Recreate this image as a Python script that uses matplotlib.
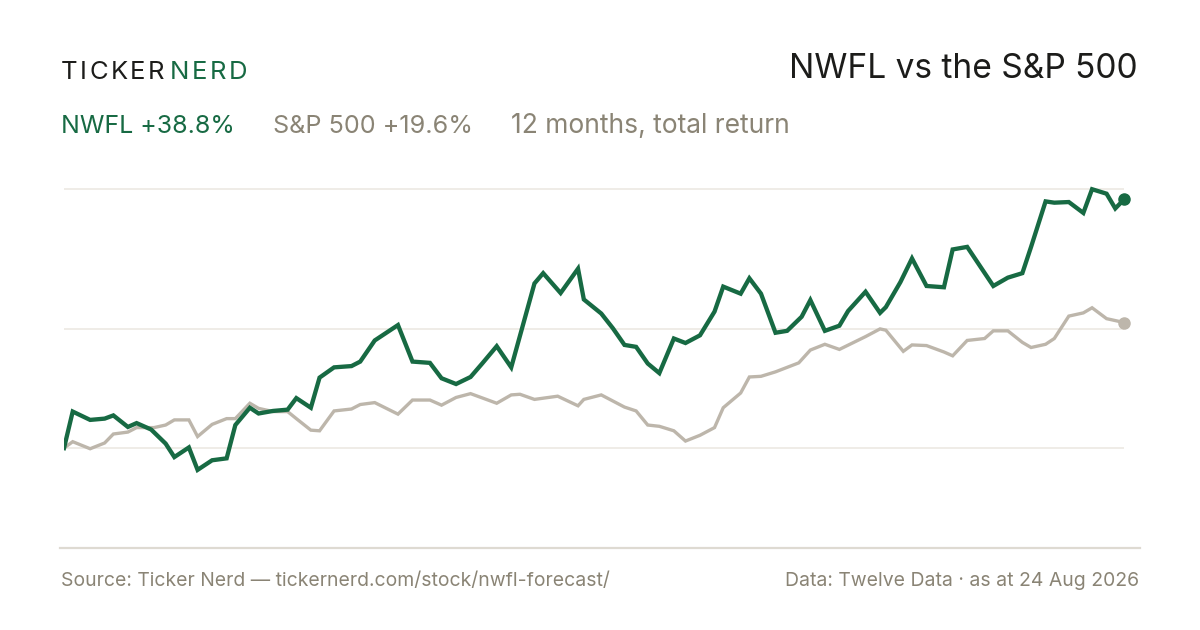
import matplotlib
matplotlib.use("Agg")
import matplotlib.pyplot as plt

# days since start, cumulative total return in %
nwfl_day = [0, 3, 9, 14, 17, 22, 25, 30, 35, 38, 43, 46, 51, 56, 59, 64, 67, 72, 77, 80,
            85, 88, 93, 99, 102, 107, 115, 120, 126, 130, 135, 140, 144, 149, 154, 162, 165,
            171, 177, 179, 185, 189, 193, 197, 201, 205, 210, 214, 219, 224, 227, 233, 236,
            240, 245, 249, 254, 257, 262, 267, 270, 276, 281, 283, 288, 292, 297, 303, 306,
            311, 320, 325, 330, 333, 338, 341, 346, 351, 354, 359, 362, 365]
nwfl_ret = [0.0, 5.7, 4.4, 4.6, 5.1, 3.3, 3.9, 2.9, 0.7, -1.4, 0.1, -3.4, -1.9, -1.6, 3.6,
            6.3, 5.4, 5.8, 6.0, 7.8, 6.3, 11.0, 12.6, 12.8, 13.5, 16.8, 19.2, 13.5, 13.3,
            10.9, 10.0, 11.1, 13.2, 15.9, 12.6, 25.7, 27.3, 24.2, 28.0, 23.2, 21.0, 18.7,
            16.1, 15.8, 13.2, 11.7, 17.1, 16.4, 17.6, 21.3, 25.2, 24.1, 26.5, 24.1, 18.0,
            18.3, 20.5, 23.1, 18.3, 19.1, 21.4, 24.4, 21.1, 22.0, 25.9, 29.6, 25.3, 25.1,
            31.0, 31.4, 25.3, 26.6, 27.3, 31.4, 38.5, 38.3, 38.4, 36.7, 40.4, 39.7, 37.4, 38.8]

spx_day = [0, 3, 9, 14, 17, 22, 25, 31, 35, 38, 43, 46, 51, 56, 59, 64, 67, 72, 77, 80, 85,
           88, 93, 99, 102, 107, 115, 120, 126, 130, 135, 140, 149, 154, 157, 162, 170, 177,
           179, 185, 193, 197, 201, 205, 210, 214, 219, 224, 227, 233, 236, 240, 245, 253,
           257, 262, 267, 276, 281, 283, 289, 292, 297, 303, 306, 311, 317, 320, 325, 330,
           333, 338, 341, 346, 351, 354, 359, 365]
spx_ret = [0.0, 1.0, -0.1, 0.8, 2.2, 2.5, 3.2, 3.2, 3.6, 4.4, 4.4, 1.8, 3.7, 4.6, 4.6, 7.0,
           6.2, 5.7, 5.7, 4.6, 2.8, 2.7, 5.8, 6.1, 6.8, 7.1, 5.3, 7.5, 7.5, 6.7, 7.9, 8.5,
           7.0, 8.3, 8.4, 7.6, 8.1, 6.6, 7.6, 8.3, 6.4, 5.8, 3.6, 3.4, 2.7, 1.1, 2.0, 3.2,
           6.3, 8.6, 11.1, 11.2, 11.9, 13.3, 15.3, 16.2, 15.4, 17.4, 18.6, 18.4, 15.1, 16.1,
           16.0, 15.0, 14.4, 16.8, 17.1, 18.3, 18.3, 16.5, 15.7, 16.2, 17.1, 20.6, 21.1,
           21.9, 20.2, 19.6]

grid_levels = [0, 18.6, 40.4]

GREEN = "#176a43"
GREY_LINE = "#bdb6ab"
GREY_TEXT = "#8a8475"
DARK = "#1c1c1a"
FONT = "Inter"

W, H = 1200, 630
fig = plt.figure(figsize=(W / 100, H / 100), dpi=100)
fig.patch.set_facecolor("white")
renderer = fig.canvas.get_renderer()


def fy(py):
    return 1 - py / H


def fitted(x_px, y_px, s, color, width_px, ha="left", size=16):
    # shrink/grow the font until the string spans the width seen in the reference
    t = fig.text(x_px / W, fy(y_px), s, color=color, fontsize=size, family=FONT,
                 va="baseline", ha=ha)
    for _ in range(3):
        w = t.get_window_extent(renderer).width
        size = size * width_px / w
        t.set_fontsize(size)
    return t


# plot area: x 64..1124 px, y 170..500 px
ax = fig.add_axes([64 / W, fy(500), 1060 / W, 330 / H])
ax.set_xlim(0, 365)
ax.set_ylim(-8.1, 43.4)
ax.axis("off")

for g in grid_levels:
    ax.axhline(g, color="#ece9e3", lw=1.2, zorder=1)

ax.plot(spx_day, spx_ret, color=GREY_LINE, lw=2.4, solid_joinstyle="miter", zorder=2)
ax.plot(nwfl_day, nwfl_ret, color=GREEN, lw=3.1, solid_joinstyle="miter", zorder=3)
ax.plot(spx_day[-1], spx_ret[-1], "o", color=GREY_LINE, ms=8, clip_on=False, zorder=4)
ax.plot(nwfl_day[-1], nwfl_ret[-1], "o", color=GREEN, ms=8, clip_on=False, zorder=4)

# footer rule
fig.add_artist(plt.Line2D([60 / W, 1140 / W], [fy(548), fy(548)], color="#dedad2", lw=1.6))


def spaced(x_px, y_px, s, color, size, track):
    x = x_px
    for ch in s:
        t = fig.text(x / W, fy(y_px), ch, color=color, fontsize=size, family=FONT,
                     va="baseline", ha="left")
        x += t.get_window_extent(renderer).width + track
    return x


spaced(61, 79, "TICKER", DARK, 18.5, 2.4)
spaced(170, 79, "NERD", GREEN, 18.5, 2.4)

fitted(1138, 78, "NWFL vs the S&P 500", DARK, 348, ha="right", size=22)

fitted(61, 133, "NWFL +38.8%", GREEN, 174)
fitted(273, 133, "S&P 500 +19.6%", GREY_TEXT, 200)
fitted(511, 133, "12 months, total return", GREY_TEXT, 279)

fitted(61, 586, "Source: Ticker Nerd \u2014 tickernerd.com/stock/nwfl-forecast/", GREY_TEXT, 550,
       size=13)
fitted(1139, 586, "Data: Twelve Data \u00b7 as at 24 Aug 2026", GREY_TEXT, 354, ha="right",
       size=13)

fig.savefig("out.png", dpi=100, facecolor="white")
